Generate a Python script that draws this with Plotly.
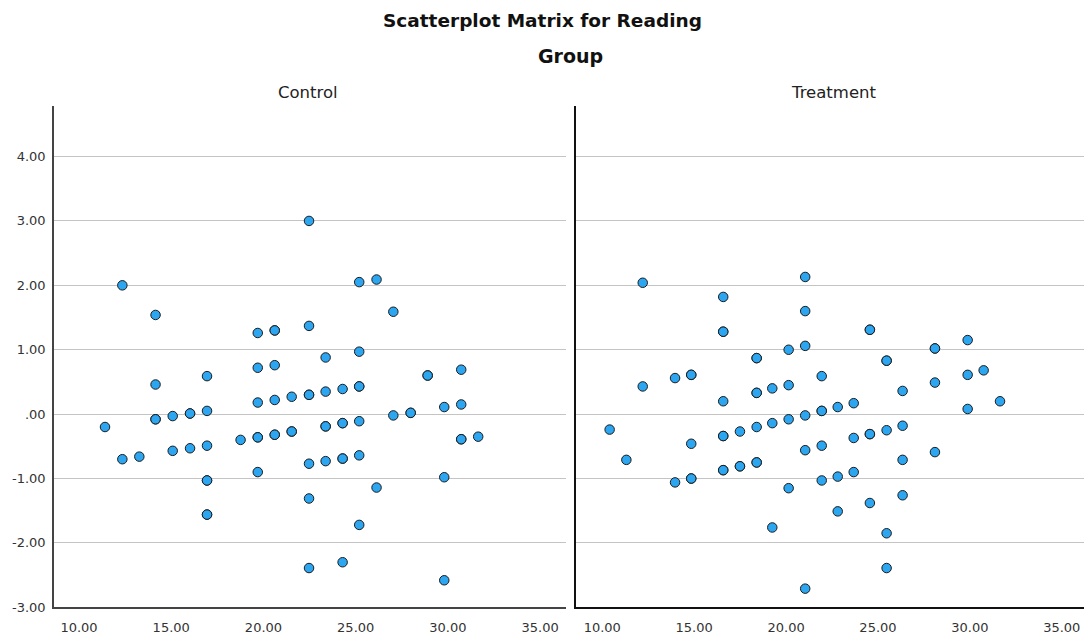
import plotly.graph_objects as go

# Reading scores (x) and residuals (y) per group
control_x = [11.41, 12.35, 12.35, 13.27, 14.15, 14.15, 14.15, 14.15,
             15.08, 15.08, 16.02, 16.02, 16.02,
             16.94, 16.94, 16.94, 16.94, 16.94, 16.94, 16.94,
             18.76,
             19.69, 19.69, 19.69, 19.69, 19.69, 19.69,
             20.61, 20.61, 20.61, 20.61, 20.61, 20.61,
             21.53, 21.53, 21.53,
             22.47, 22.47, 22.47, 22.47, 22.47, 22.47, 22.47,
             23.37, 23.37, 23.37, 23.37, 23.37,
             24.29, 24.29, 24.29, 24.29, 24.29, 24.29,
             25.19, 25.19, 25.19, 25.19, 25.19, 25.19, 25.19,
             26.13, 26.13, 27.04, 27.04, 27.98, 27.98, 28.90, 28.90,
             29.80, 29.80, 29.80,
             30.72, 30.72, 30.72, 30.72, 31.64]
control_y = [-0.20, -0.70, 2.00, -0.66, 1.54, 0.46, -0.08, -0.08,
             -0.03, -0.57, 0.01, 0.01, -0.53,
             0.59, 0.05, -0.49, -1.03, -1.03, -1.56, -1.56,
             -0.40,
             1.26, 0.72, 0.18, -0.36, -0.36, -0.90,
             1.30, 1.30, 0.76, 0.22, -0.32, -0.32,
             0.27, -0.27, -0.27,
             3.00, 1.37, 0.30, 0.30, -0.77, -1.31, -2.39,
             0.88, 0.35, -0.19, -0.19, -0.73,
             0.39, -0.14, -0.14, -0.69, -0.69, -2.30,
             2.05, 0.97, 0.43, 0.43, -0.11, -0.64, -1.72,
             2.09, -1.14, 1.59, -0.02, 0.02, 0.02, 0.60, 0.60,
             0.11, -0.98, -2.58,
             0.69, 0.15, -0.39, -0.39, -0.35]

treatment_x = [10.40, 11.31, 12.20, 12.20, 13.96, 13.96,
               14.84, 14.84, 14.84, 14.84, 14.84,
               16.58, 16.58, 16.58, 16.58, 16.58, 16.58, 16.58, 16.58,
               17.49, 17.49, 17.49,
               18.40, 18.40, 18.40, 18.40, 18.40, 18.40, 18.40,
               19.25, 19.25, 19.25,
               20.14, 20.14, 20.14, 20.14,
               21.04, 21.04, 21.04, 21.04, 21.04, 21.04,
               21.94, 21.94, 21.94, 21.94, 21.94,
               22.81, 22.81, 22.81,
               23.68, 23.68, 23.68,
               24.56, 24.56, 24.56, 24.56, 24.56,
               25.47, 25.47, 25.47, 25.47, 25.47,
               26.34, 26.34, 26.34, 26.34,
               28.10, 28.10, 28.10, 28.10,
               29.88, 29.88, 29.88,
               30.75, 31.64]
treatment_y = [-0.24, -0.71, 2.04, 0.43, 0.56, -1.06,
               0.61, 0.61, -0.46, -1.00, -1.00,
               1.82, 1.28, 1.28, 0.20, -0.34, -0.34, -0.87, -0.87,
               -0.27, -0.81, -0.81,
               0.87, 0.87, 0.33, 0.33, -0.20, -0.75, -0.75,
               0.40, -0.14, -1.76,
               1.00, 0.45, -0.08, -1.15,
               2.13, 1.60, 1.06, -0.02, -0.56, -2.71,
               0.59, 0.05, 0.05, -0.49, -1.03,
               0.11, -0.97, -1.51,
               0.17, -0.37, -0.90,
               1.31, 1.31, -0.31, -0.31, -1.38,
               0.83, 0.83, -0.25, -1.85, -2.39,
               0.36, -0.18, -0.71, -1.26,
               1.02, 1.02, 0.49, -0.59,
               1.15, 0.61, 0.08,
               0.68, 0.20]

panel_titles = ["Control", "Treatment"]
chart_title = "Scatterplot Matrix for Reading"
group_label = "Group"

y_ticks = [-3, -2, -1, 0, 1, 2, 3, 4]
y_tick_text = ["-3.00", "-2.00", "-1.00", ".00", "1.00", "2.00", "3.00", "4.00"]
x_ticks = [10, 15, 20, 25, 30, 35]
x_tick_text = ["10.00", "15.00", "20.00", "25.00", "30.00", "35.00"]

W, H = 1084, 641
FONT = "DejaVu Sans"


def px_x(p):
    return p / W


def px_y(p):
    return 1 - p / H


marker = dict(size=9.5, color="#2ca6f0", line=dict(color="#1c1c1c", width=1))
tick_font = dict(family=FONT, size=13, color="#333333")

fig = go.Figure()
fig.add_trace(go.Scatter(x=control_x, y=control_y, mode="markers",
                         marker=marker, xaxis="x", yaxis="y",
                         showlegend=False, hoverinfo="x+y"))
fig.add_trace(go.Scatter(x=treatment_x, y=treatment_y, mode="markers",
                         marker=marker, xaxis="x2", yaxis="y2",
                         showlegend=False, hoverinfo="x+y"))

y_dom = [px_y(615), px_y(107)]
common_y = dict(range=[-3, 4.79], tickvals=y_ticks, showgrid=True,
                gridcolor="#c4c4c4", gridwidth=1, zeroline=False,
                showline=True, linewidth=1.5, fixedrange=True,
                ticks="outside", ticklen=4, tickcolor="rgba(0,0,0,0)",
                domain=y_dom)
common_x = dict(tickvals=x_ticks, ticktext=x_tick_text, showgrid=False,
                zeroline=False, showline=True, linewidth=1.5,
                ticks="outside", ticklen=7, tickcolor="rgba(0,0,0,0)",
                tickfont=tick_font)

fig.update_layout(
    width=W, height=H,
    margin=dict(l=0, r=0, t=0, b=0),
    paper_bgcolor="white", plot_bgcolor="white",
    font=dict(family=FONT, color="#222222"),
    xaxis=dict(common_x, domain=[px_x(54), px_x(566)], range=[8.645, 36.4],
               linecolor="#444444", anchor="y"),
    yaxis=dict(common_y, ticktext=y_tick_text, linecolor="#444444",
               tickfont=tick_font, anchor="x"),
    xaxis2=dict(common_x, domain=[px_x(576), 1.0], range=[8.57, 36.21],
                linecolor="#111111", anchor="y2"),
    yaxis2=dict(common_y, showticklabels=False, linecolor="#111111",
                anchor="x2"),
    annotations=[
        dict(text="<b>" + chart_title + "</b>", x=0.5, y=px_y(21),
             xref="paper", yref="paper", showarrow=False,
             xanchor="center", yanchor="middle",
             font=dict(family=FONT, size=18.5, color="#111111")),
        dict(text="<b>" + group_label + "</b>", x=px_x(570.5), y=px_y(57),
             xref="paper", yref="paper", showarrow=False,
             xanchor="center", yanchor="middle",
             font=dict(family=FONT, size=19, color="#111111")),
        dict(text=panel_titles[0], x=px_x(308), y=px_y(94),
             xref="paper", yref="paper", showarrow=False,
             xanchor="center", yanchor="middle",
             font=dict(family=FONT, size=16.5, color="#222222")),
        dict(text=panel_titles[1], x=px_x(833), y=px_y(94),
             xref="paper", yref="paper", showarrow=False,
             xanchor="center", yanchor="middle",
             font=dict(family=FONT, size=16.5, color="#222222")),
    ],
)

fig.write_html("out.html")
